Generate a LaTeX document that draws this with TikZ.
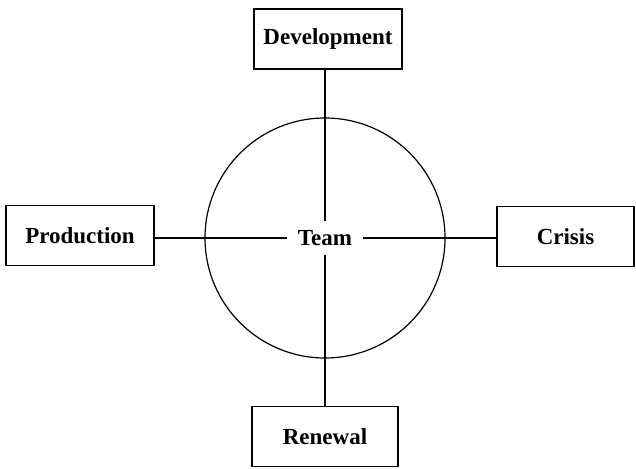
\documentclass[tikz,border=0pt]{standalone}
\usepackage{fontspec}
\setmainfont{Liberation Serif}
\usepackage{tikz}
\usetikzlibrary{positioning}
\tikzset{
  phase/.style = {rectangle, draw=black, fill=white, line width=1.4pt,
                  minimum width=#1, minimum height=60pt, inner sep=0pt,
                  font=\fontsize{23}{27}\selectfont\bfseries},
  hub/.style   = {inner xsep=11pt, minimum height=34pt, inner ysep=0pt,
                  font=\fontsize{23}{27}\selectfont\bfseries},
  tie/.style   = {line width=1.2pt, draw=black},
}
\begin{document}
\begin{tikzpicture}[x=1pt, y=1pt]
  \useasboundingbox (0,0) rectangle (636,468);
  \draw[tie] (325,230) circle (120);
  \node[hub] (team) at (325,230) {Team};
  \node[phase=148pt] (dev) at (328,429) {Development};
  \node[phase=148pt] (prod) at (80,232.5) {Production};
  \node[phase=137pt] (crisis) at (565.5,231.5) {Crisis};
  \node[phase=146pt] (renew) at (325,31.5) {Renewal};
  \draw[tie] (dev.south -| team) -- (team.north);
  \draw[tie] (team.south) -- (renew.north -| team);
  \draw[tie] (prod.east |- team) -- (team.west);
  \draw[tie] (team.east) -- (crisis.west |- team);
\end{tikzpicture}
\end{document}
